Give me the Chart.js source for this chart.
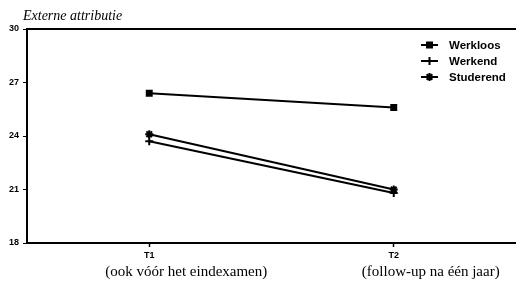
<!DOCTYPE html>
<html>
<head>
<meta charset="utf-8">
<script src="https://cdn.jsdelivr.net/npm/chart.js@4/dist/chart.umd.min.js"></script>
<style>
  html, body { margin: 0; padding: 0; background: #fff; }
  #wrap { width: 516px; height: 286px; position: relative; }
</style>
</head>
<body>
<div id="wrap"><canvas id="chart" width="516" height="286"></canvas></div>
<script>
const timeLabels = ["T1", "T2"];
const subLabels = ["(ook vóór het eindexamen)", "(follow-up na één jaar)"];
const seriesNames = ["Werkloos", "Werkend", "Studerend"];
const werkloos = [26.4, 25.6];
const werkend = [23.7, 20.8];
const studerend = [24.1, 21.0];
const yTitle = "Externe attributie";

const SANS = "'Liberation Sans', Arial, sans-serif";
const SERIF = "'Liberation Serif', 'DejaVu Serif', serif";

function line(label, data, style, radius) {
  return {
    label, data,
    borderColor: "#000", backgroundColor: "#000",
    borderWidth: 2,
    pointStyle: style, pointRadius: radius, pointBorderWidth: 2,
    tension: 0,
  };
}

// frame top line, title and the in-plot legend
const extras = {
  id: "extras",
  afterDraw(chart) {
    const { ctx, chartArea: a } = chart;
    ctx.save();
    ctx.strokeStyle = "#000";
    ctx.lineWidth = 2;
    ctx.beginPath();
    ctx.moveTo(a.left, a.top);
    ctx.lineTo(a.right, a.top);
    ctx.stroke();

    ctx.fillStyle = "#000";
    ctx.font = "italic 14px " + SERIF;
    ctx.textBaseline = "middle";
    ctx.fillText(yTitle, 23, 16);

    ctx.font = "bold 11.5px " + SANS;
    chart.data.datasets.forEach((ds, i) => {
      const y = 45 + i * 16;
      ctx.lineWidth = 2;
      ctx.beginPath();
      ctx.moveTo(421, y);
      ctx.lineTo(438, y);
      ctx.stroke();
      Chart.helpers.drawPoint(ctx, {
        pointStyle: ds.pointStyle, radius: ds.pointRadius, borderWidth: 2, rotation: 0,
      }, 429.5, y);
      ctx.fill();
      ctx.fillText(ds.label, 449, y + 1);
    });
    ctx.restore();
  }
};

new Chart(document.getElementById("chart"), {
  type: "line",
  data: {
    labels: timeLabels,
    datasets: [
      line(seriesNames[0], werkloos, "rect", 3.5),
      line(seriesNames[1], werkend, "cross", 4),
      line(seriesNames[2], studerend, "star", 4),
    ],
  },
  options: {
    responsive: false,
    animation: false,
    layout: { autoPadding: false, padding: { top: 29, right: 0, left: 0, bottom: 0 } },
    plugins: { legend: { display: false }, tooltip: { enabled: false } },
    scales: {
      x: {
        type: "category",
        offset: true,
        grid: { offset: false, drawOnChartArea: false, tickLength: 4, color: "#000", tickWidth: 1.5 },
        border: { display: true, color: "#000", width: 2 },
        ticks: { color: "#000", padding: 3, font: { family: SANS, size: 9, weight: "bold" } },
        afterFit(s) { s.height = 17; },
      },
      x2: {
        type: "category",
        position: "bottom",
        labels: subLabels,
        offset: true,
        grid: { display: false },
        border: { display: false },
        ticks: { color: "#000", padding: -5, labelOffset: 37, font: { family: SERIF, size: 15 } },
        afterFit(s) { s.height = 26; },
      },
      y: {
        min: 18, max: 30,
        grid: { drawOnChartArea: false, tickLength: 4, color: "#000" },
        border: { display: true, color: "#000", width: 2 },
        ticks: { stepSize: 3, color: "#000", padding: 4, font: { family: SANS, size: 9, weight: "bold" } },
        afterFit(s) { s.width = 27; },
      },
    },
  },
  plugins: [extras],
});
</script>
</body>
</html>
